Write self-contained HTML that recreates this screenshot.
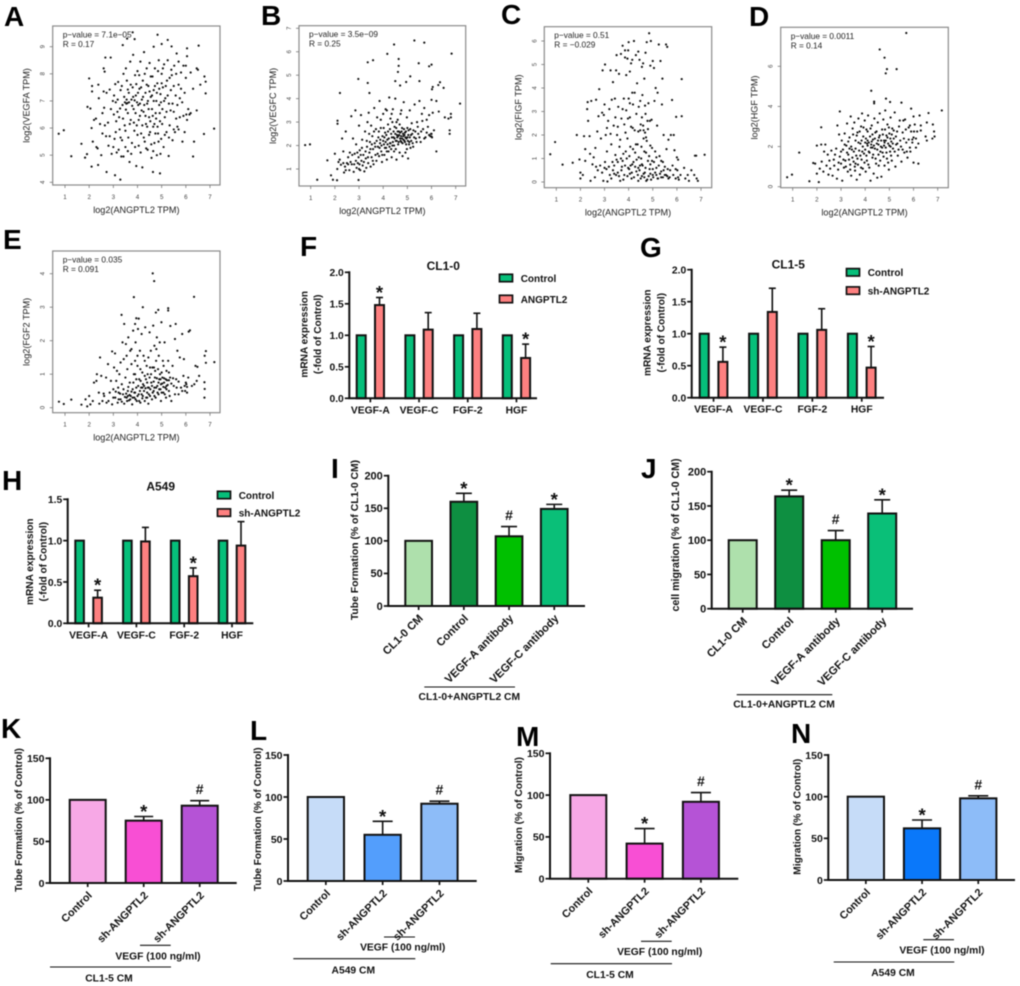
<!DOCTYPE html>
<html lang="en">
<head>
<meta charset="utf-8">
<title>ANGPTL2 multi-panel figure</title>
<style>
html,body{margin:0;padding:0;background:#fff;}
#figure{display:block;width:1020px;height:986px;filter:blur(0.4px);font-family:"Liberation Sans",Arial,sans-serif;}
.letter{font-size:28px;font-weight:700;fill:#000;}
</style>
</head>
<body>
<svg id="figure" xmlns="http://www.w3.org/2000/svg" width="1020" height="986" viewBox="0 0 1020 986">
<rect x="0" y="0" width="1020" height="986" fill="#fff"/>
<text class="letter" x="4" y="26">A</text>
<text class="letter" x="261" y="25">B</text>
<text class="letter" x="501" y="24">C</text>
<text class="letter" x="749" y="26">D</text>
<text class="letter" x="3" y="249">E</text>
<text class="letter" x="300" y="256">F</text>
<text class="letter" x="640" y="257">G</text>
<text class="letter" x="2" y="490">H</text>
<text class="letter" x="331" y="478">I</text>
<text class="letter" x="641" y="478">J</text>
<text class="letter" x="1" y="738">K</text>
<text class="letter" x="250" y="740">L</text>
<text class="letter" x="516" y="746">M</text>
<text class="letter" x="791" y="743">N</text>
</svg>
<script>
/* ---------- scatter data ---------- */
const scatterXTicks = [1,2,3,4,5,6,7];
const yTicksA = [4,5,6,7,8,9];
const yTicksB = [1,2,3,4,5,6,7];
const yTicksC = [0,1,2,3,4,5,6];
const yTicksD = [0,2,4,6];
const yTicksE = [0,1,2,3,4];

const pointsA = [[0.74,5.79],[0.95,5.92],[1.26,4.96],[1.68,5.42],[1.83,4.91],[1.91,5.04],[2.1,4.58],[2.0,7.83],[2.12,7.55],[2.12,7.35],[2.38,7.6],[2.37,4.64],[2.72,4.38],[3.07,4.26],[3.29,4.1],[2.67,8.6],[2.89,8.6],[2.6,8.2],[2.64,8.08],[3.39,9.06],[3.8,9.53],[3.57,9.3],[3.88,9.28],[4.83,9.44],[5.25,9.25],[5.0,9.1],[4.67,9.0],[5.41,9.01],[6.05,8.94],[6.53,9.04],[7.17,5.98],[6.75,5.78],[6.3,4.95],[6.34,5.5],[5.86,5.5],[4.64,4.38],[4.93,4.33],[5.29,4.97],[6.82,7.28],[6.82,7.71],[6.77,7.9],[6.45,8.2],
[1.93,6.78],[2.05,6.72],[2.1,6.0],[2.15,5.5],[2.2,6.3],[2.28,6.35],[2.3,5.3],[2.35,5.25],[2.4,7.1],[2.45,6.15],[2.5,5.0],[2.55,6.55],[2.6,7.35],[2.62,6.75],[2.7,5.7],[2.72,7.3],[2.78,6.2],[2.8,5.35],[2.85,7.42],[2.9,6.7],[2.93,5.05],[2.98,7.0],[3.02,6.5],[3.05,5.6],[3.08,7.62],[3.1,6.95],[3.14,5.1],[3.17,6.6],[3.2,7.7],[3.24,6.4],[3.26,5.95],[3.3,7.4],[3.33,4.95],[3.36,5.55],[3.38,6.85],[3.42,8.0],[3.45,7.15],[3.47,6.1],[3.5,5.3],[3.52,8.2],[3.54,6.9],[3.56,7.75],[3.6,6.55],[3.62,5.65],[3.64,7.3],[3.67,4.75],[3.7,8.45],[3.72,6.3],[3.75,7.05],[3.77,5.45],[3.8,7.5],[3.82,8.7],[3.84,6.7],[3.87,5.9],[3.9,7.95],[3.93,7.2],[3.95,4.6],[3.97,6.1],[4.0,8.1],[4.03,6.85],[4.05,5.35],[4.08,7.45],[4.1,6.45],[4.12,8.45],[4.15,5.8],[4.18,7.05],[4.2,4.55],[4.22,7.75],[4.25,6.6],[4.27,8.8],[4.3,5.5],[4.33,7.3],[4.35,6.15],[4.38,8.2],[4.4,6.9],[4.42,5.2],[4.45,7.55],[4.48,6.4],[4.5,8.4],[4.52,5.85],[4.55,7.15],[4.58,4.9],[4.6,6.7],[4.62,7.9],[4.65,6.05],[4.67,7.4],[4.7,5.45],[4.72,8.2],[4.75,6.55],[4.78,7.0],[4.8,5.0],[4.82,7.65],[4.85,5.8],[4.88,8.5],[4.9,6.85],[4.93,6.25],[4.95,7.25],[4.98,5.6],[5.0,8.0],[5.03,6.7],[5.05,7.5],[5.08,5.3],[5.1,8.35],[5.13,6.4],[5.15,7.1],[5.2,5.85],[5.22,7.75],[5.25,8.5],[5.3,6.9],[5.33,6.1],[5.38,7.4],[5.42,7.95],[5.45,5.55],[5.5,6.6],[5.52,8.3],[5.58,7.2],[5.62,8.75],[5.65,6.05],[5.7,7.6],[5.75,6.4],[5.8,8.05],[5.85,6.95],[5.9,8.3],[5.95,7.3],[6.0,7.85],[6.02,6.5],[6.05,8.65],[6.1,6.7],[6.15,6.5],[6.2,8.05],[6.3,7.45],[6.45,6.65],[6.5,8.15],[6.6,7.6],[5.7,5.95],[5.6,6.35],[5.5,5.95],[5.95,5.85],
[3.03,7.2],[3.12,6.25],[3.18,7.05],[3.28,6.72],[3.35,7.55],[3.4,6.35],[3.48,6.95],[3.52,6.68],[3.55,7.05],[3.58,6.92],[3.6,7.42],[3.65,6.95],[3.68,6.15],[3.72,7.6],[3.74,5.05],[3.78,6.82],[3.82,7.15],[3.85,6.2],[3.88,7.02],[3.9,5.3],[3.92,6.55],[3.95,7.62],[3.98,6.95],[4.0,5.75],[4.02,7.3],[4.05,6.3],[4.07,7.95],[4.1,6.9],[4.13,5.1],[4.15,7.5],[4.17,6.65],[4.2,6.1],[4.23,7.15],[4.26,5.65],[4.28,6.85],[4.3,8.0],[4.33,6.45],[4.36,5.25],[4.38,7.6],[4.4,6.05],[4.43,7.0],[4.46,6.7],[4.48,5.75],[4.5,7.35],[4.53,6.25],[4.55,7.9],[4.57,5.4],[4.6,7.2],[4.63,6.45],[4.65,5.15],[4.67,7.0],[4.7,6.15],[4.72,7.55],[4.74,5.8],[4.77,6.35],[4.8,7.3],[4.83,6.05],[4.85,8.1],[4.87,5.5],[4.9,7.45],[4.92,6.55],[4.95,5.05],[4.97,6.95],[5.0,7.65],[5.02,6.15],[5.05,8.2],[5.1,7.0],[5.13,5.75],[5.17,7.55],[5.2,6.6],[5.25,7.2],[5.3,5.65],[5.33,7.85],[5.37,6.65],[5.4,8.15],[5.45,6.9],[5.5,7.55],[5.55,5.85],[5.6,8.0],[5.65,6.85],[5.7,8.45],[5.75,7.1],[5.8,7.45],[5.9,6.45],[6.0,8.3],[6.05,6.3],[6.2,6.55],[2.55,5.8],[2.65,6.1],[2.85,5.7],[3.0,5.3],[3.1,5.85],[3.22,5.2],[3.3,5.65],[3.42,4.95],[3.5,5.9],[3.6,5.15]];

const pointsB = [[0.77,2.02],[0.97,2.05],[1.27,0.54],[1.69,1.37],[1.84,0.73],[1.92,0.54],[2.09,0.52],[2.21,4.24],[2.11,3.06],[2.11,2.93],[2.98,0.53],[2.97,4.84],[3.36,5.55],[3.58,5.64],[3.36,4.67],[3.43,4.24],[4.17,5.91],[4.45,6.31],[5.29,6.48],[5.7,6.39],[4.64,5.69],[4.64,5.4],[4.61,5.14],[4.5,4.75],[4.7,4.56],[5.12,4.95],[4.95,4.71],[5.47,5.51],[5.5,4.75],[5.9,5.38],[6.0,5.45],[6.83,5.92],[7.18,3.79],[6.35,4.7],[6.5,4.46],[6.28,4.58],[6.05,4.5],[6.02,4.4],[6.2,1.75],[6.75,2.5],[6.75,2.65],[6.8,3.35],[6.8,3.2],[6.55,3.2],[6.3,3.45],[6.7,3.15],
[2.0,1.65],[2.1,1.0],[2.15,1.3],[2.2,1.4],[2.25,1.18],[2.3,2.3],[2.35,1.75],[2.38,0.85],[2.42,1.1],[2.45,2.6],[2.5,1.25],[2.55,1.5],[2.6,0.95],[2.62,1.7],[2.68,3.25],[2.7,1.2],[2.75,2.3],[2.78,0.88],[2.82,1.65],[2.85,3.5],[2.88,2.05],[2.9,1.05],[2.95,1.25],[2.98,1.5],[3.0,2.85],[3.03,1.8],[3.05,0.95],[3.08,3.3],[3.1,1.35],[3.13,2.25],[3.15,1.15],[3.18,1.6],[3.22,0.9],[3.25,2.6],[3.28,1.45],[3.3,1.05],[3.33,1.95],[3.35,3.0],[3.38,1.25],[3.4,3.4],[3.43,1.7],[3.45,2.15],[3.48,1.1],[3.5,2.85],[3.52,1.5],[3.55,2.4],[3.58,1.85],[3.6,1.2],[3.63,3.6],[3.65,2.1],[3.68,1.6],[3.7,2.7],[3.72,1.35],[3.75,3.2],[3.78,1.95],[3.8,2.35],[3.83,1.55],[3.85,3.9],[3.87,2.1],[3.9,2.75],[3.92,1.75],[3.95,1.3],[3.97,2.4],[4.0,3.35],[4.03,2.05],[4.05,1.6],[4.08,2.55],[4.1,3.55],[4.12,1.9],[4.15,1.4],[4.17,2.25],[4.2,2.9],[4.22,1.75],[4.25,4.05],[4.28,2.1],[4.3,3.15],[4.33,2.5],[4.35,1.5],[4.38,2.0],[4.4,3.55],[4.43,2.35],[4.45,1.75],[4.47,2.8],[4.5,4.0],[4.52,2.2],[4.55,1.4],[4.57,2.45],[4.6,3.1],[4.62,2.05],[4.65,2.6],[4.68,1.7],[4.7,2.3],[4.72,3.35],[4.75,2.15],[4.78,2.75],[4.8,1.55],[4.83,2.4],[4.85,3.85],[4.88,2.2],[4.9,2.55],[4.92,1.7],[4.95,2.05],[4.98,3.2],[5.0,2.35],[5.03,1.45],[5.05,2.65],[5.08,2.15],[5.1,3.5],[5.13,1.9],[5.15,2.45],[5.18,2.95],[5.22,2.1],[5.25,2.65],[5.3,3.75],[5.35,2.3],[5.4,3.0],[5.45,2.5],[5.5,3.9],[5.55,2.15],[5.6,3.35],[5.65,2.7],[5.7,3.6],[5.75,2.35],[5.8,3.1],[5.85,2.8],[5.9,3.3],[5.95,2.4],[6.0,2.5],[6.02,2.35],[6.0,3.95],[6.05,3.4],[6.1,2.65],[6.2,3.9],
[3.02,1.2],[3.07,1.6],[3.12,1.9],[3.2,1.3],[3.27,1.75],[3.32,2.2],[3.37,1.5],[3.42,2.5],[3.47,1.85],[3.53,2.05],[3.57,1.35],[3.62,2.6],[3.67,1.95],[3.73,2.2],[3.77,1.65],[3.82,2.6],[3.85,1.9],[3.88,2.25],[3.93,2.0],[3.96,1.6],[4.0,2.2],[4.02,2.75],[4.05,2.35],[4.07,1.9],[4.1,2.15],[4.13,2.45],[4.15,1.75],[4.18,2.05],[4.2,2.6],[4.23,2.3],[4.26,1.95],[4.28,2.7],[4.3,2.1],[4.33,1.85],[4.36,2.35],[4.38,3.0],[4.4,2.15],[4.43,2.6],[4.45,2.0],[4.47,2.3],[4.5,2.5],[4.52,1.85],[4.54,2.75],[4.56,2.2],[4.58,2.35],[4.6,2.6],[4.62,2.4],[4.64,2.15],[4.66,2.45],[4.68,2.9],[4.7,2.55],[4.72,2.2],[4.74,2.4],[4.76,2.6],[4.78,2.3],[4.8,2.1],[4.82,2.5],[4.84,2.25],[4.86,2.7],[4.88,2.45],[4.9,2.15],[4.92,2.35],[4.94,2.6],[4.96,2.3],[4.98,1.85],[5.0,2.75],[5.02,2.2],[5.04,2.45],[5.07,2.05],[5.1,2.35],[5.12,2.7],[5.16,2.2],[5.2,2.5],[5.24,1.95],[5.28,2.35],[5.33,2.6],[5.38,2.15],[5.43,2.8],[5.5,2.35],[5.57,2.6],[5.62,3.05],[5.7,2.3],[5.8,2.55],[5.9,2.45],[5.98,2.5],[6.0,2.38],[2.35,1.25],[2.45,0.95],[2.55,1.2],[2.65,1.3],[2.72,1.6],[2.8,1.2],[2.87,1.35],[2.93,1.7],[3.0,1.0],[3.9,3.1],[4.15,3.5],[4.35,3.35],[4.55,3.0],[4.75,3.5]];

const pointsC = [[0.75,1.18],[0.95,1.7],[1.26,0.74],[1.68,0.82],[1.85,2.0],[1.96,0.96],[2.0,0.15],[2.0,0.4],[2.1,0.3],[2.15,1.95],[2.2,1.4],[2.2,0.9],[2.28,3.1],[2.3,3.4],[2.32,2.6],[2.38,1.95],[2.4,1.2],[2.42,0.05],[2.45,3.45],[2.5,0.75],[2.55,1.05],[2.62,1.45],[2.65,3.5],[2.7,2.15],[2.72,0.5],[2.75,2.8],[2.78,3.95],[2.82,0.7],[2.85,1.85],[2.9,2.95],[2.92,4.75],[2.95,0.05],[2.97,2.85],[3.0,3.3],[3.02,5.0],[3.05,2.0],[3.08,0.55],[3.1,1.3],[3.12,0.02],[3.15,2.6],[3.2,3.1],[3.22,0.3],[3.25,4.75],[3.28,1.6],[3.3,3.5],[3.33,0.85],[3.35,4.25],[3.38,2.4],[3.4,0.35],[3.43,3.55],[3.45,1.15],[3.48,4.75],[3.5,5.4],[3.52,2.0],[3.55,0.4],[3.57,3.2],[3.6,4.6],[3.62,1.5],[3.65,0.05],[3.68,5.45],[3.7,2.7],[3.72,0.65],[3.75,5.8],[3.78,1.2],[3.8,3.55],[3.82,0.3],[3.85,5.6],[3.87,2.1],[3.9,4.55],[3.92,1.0],[3.95,5.25],[3.97,2.7],[4.0,5.95],[4.02,0.55],[4.05,3.35],[4.07,1.5],[4.1,5.05],[4.12,0.15],[4.15,3.8],[4.17,2.3],[4.2,0.85],[4.22,6.0],[4.25,2.2],[4.27,1.25],[4.3,5.4],[4.32,0.45],[4.35,4.2],[4.37,1.6],[4.4,0.05],[4.42,3.2],[4.45,5.2],[4.47,0.7],[4.5,2.45],[4.52,1.0],[4.55,0.25],[4.57,3.7],[4.6,5.05],[4.62,1.85],[4.65,4.4],[4.67,0.4],[4.7,2.9],[4.72,1.25],[4.75,5.95],[4.77,0.1],[4.8,2.25],[4.82,3.35],[4.85,6.33],[4.87,0.55],[4.9,1.55],[4.92,6.0],[4.95,2.65],[4.97,0.9],[5.0,5.15],[5.02,0.2],[5.05,4.85],[5.07,3.45],[5.1,1.3],[5.12,4.0],[5.15,0.6],[5.18,2.4],[5.2,3.8],[5.22,0.15],[5.25,5.85],[5.28,1.1],[5.32,5.15],[5.35,0.45],[5.38,3.3],[5.4,4.4],[5.42,0.85],[5.45,2.0],[5.5,0.3],[5.55,5.85],[5.57,1.4],[5.6,5.75],[5.62,0.55],[5.65,1.8],[5.7,0.2],[5.75,2.0],[5.8,3.49],[5.82,0.7],[5.87,2.0],[5.9,1.35],[5.95,0.15],[5.97,2.77],[6.0,1.05],[6.02,0.5],[6.05,0.95],[6.08,0.1],[6.15,0.3],[6.2,4.38],[6.2,2.8],[6.3,0.6],[6.35,0.15],[6.45,0.3],[6.5,0.05],[6.6,0.5],[6.72,0.3],[6.75,1.12],[6.8,1.12],[6.82,0.15],[6.87,0.05],[7.15,1.16],[3.0,0.6],[3.4,0.7],[3.75,0.9],[4.15,0.75],[4.4,0.6],[4.65,0.2],[4.9,0.35],[5.15,0.3],[5.35,0.2],[5.6,0.25],[2.6,0.2],[3.55,0.85],[4.05,0.35],[4.58,0.7],[5.0,0.55],[5.45,0.5],
[2.65,0.65],[2.9,0.4],[3.02,0.85],[3.18,0.65],[3.28,0.15],[3.35,0.5],[3.48,0.3],[3.5,0.95],[3.6,0.25],[3.68,1.0],[3.7,0.5],[3.78,0.1],[3.85,0.7],[3.88,1.3],[3.95,0.25],[3.98,0.6],[4.03,1.1],[4.08,0.7],[4.13,0.4],[4.18,1.4],[4.22,0.2],[4.27,0.65],[4.3,1.6],[4.33,0.95],[4.38,0.3],[4.42,1.05],[4.45,0.5],[4.48,2.2],[4.5,0.15],[4.53,1.5],[4.55,0.75],[4.6,2.4],[4.62,0.35],[4.65,1.3],[4.68,2.1],[4.7,0.6],[4.73,0.05],[4.75,1.75],[4.8,0.9],[4.83,0.25],[4.85,1.1],[4.88,2.6],[4.9,0.75],[4.93,0.1],[4.97,1.45],[5.0,0.3],[5.05,0.85],[5.1,0.4],[5.15,1.05],[5.2,0.15],[5.25,0.7],[5.3,0.35],[5.35,0.9],[5.42,0.2],[5.5,0.65],[5.55,0.3],[5.65,0.15],[5.72,0.5],[5.85,0.3],[5.95,0.55],[6.05,0.2],[3.1,2.3],[3.25,2.05],[3.45,2.75],[3.55,2.35],[3.65,1.8],[3.75,3.1],[3.82,2.45],[3.9,3.05],[3.95,1.85],[4.0,3.55],[4.05,2.75],[4.1,2.35],[4.18,3.3],[4.25,3.8],[4.32,2.9],[4.4,2.15],[4.48,3.45],[4.55,2.75],[4.62,2.2],[4.68,3.25],[4.72,1.9],[4.78,2.6],[3.85,5.3],[3.98,5.6],[4.05,4.7],[4.15,5.2],[4.4,5.55],[4.55,4.9],[4.7,5.5],[4.9,4.95]];

const pointsD = [[0.77,0.47],[0.97,0.6],[1.27,1.7],[1.69,0.27],[2.08,0.23],[1.85,1.18],[2.18,2.96],[2.95,3.75],[5.7,7.66],[4.6,6.84],[4.8,6.43],[4.9,5.86],[4.85,5.65],[5.3,5.86],[4.25,4.78],[4.37,4.24],[4.37,4.15],[4.86,4.39],[5.03,4.22],[5.5,4.19],[7.17,3.8],[6.62,3.67],[5.9,3.89],[6.0,3.5],[6.25,3.55],[6.55,3.2],[6.8,3.1],[6.85,2.75],[6.87,2.5],[6.78,2.4],[6.5,2.5],[6.3,2.8],[6.15,2.75],[6.2,1.15],[6.0,1.2],[5.87,1.75],
[1.93,1.15],[2.0,2.05],[2.0,0.65],[2.12,0.9],[2.18,2.1],[2.2,1.25],[2.27,0.75],[2.3,1.75],[2.35,2.1],[2.4,1.05],[2.45,1.6],[2.48,0.6],[2.52,1.3],[2.55,0.9],[2.6,1.8],[2.65,0.55],[2.7,1.35],[2.72,1.05],[2.8,1.9],[2.83,0.4],[2.85,3.05],[2.88,0.85],[2.92,2.6],[2.95,1.5],[3.0,1.15],[3.03,2.3],[3.05,0.3],[3.08,1.85],[3.12,0.95],[3.15,2.65],[3.18,1.3],[3.22,2.05],[3.25,3.15],[3.28,0.75],[3.3,1.6],[3.35,2.45],[3.38,1.1],[3.4,3.5],[3.42,0.55],[3.45,1.85],[3.48,2.9],[3.52,1.25],[3.55,3.2],[3.58,0.8],[3.6,2.3],[3.63,1.55],[3.65,0.35],[3.68,2.7],[3.7,1.1],[3.72,3.4],[3.75,1.8],[3.78,0.6],[3.8,2.15],[3.83,3.0],[3.85,1.35],[3.87,3.65],[3.9,0.9],[3.92,2.5],[3.95,1.65],[3.98,3.3],[4.0,2.2],[4.02,0.75],[4.05,2.85],[4.07,1.3],[4.1,2.05],[4.12,3.55],[4.15,1.75],[4.17,0.95],[4.2,2.5],[4.22,0.3],[4.25,2.1],[4.27,3.05],[4.3,1.45],[4.32,2.35],[4.35,0.65],[4.38,3.4],[4.4,1.9],[4.42,2.7],[4.45,1.15],[4.48,2.15],[4.5,0.45],[4.52,3.2],[4.55,1.6],[4.57,2.45],[4.6,3.65],[4.62,1.3],[4.65,2.0],[4.67,0.5],[4.7,2.85],[4.72,1.7],[4.75,3.35],[4.78,2.3],[4.8,1.05],[4.83,3.8],[4.85,1.95],[4.88,2.55],[4.9,1.4],[4.92,3.1],[4.95,2.15],[4.98,0.85],[5.0,2.65],[5.03,1.75],[5.05,3.45],[5.08,2.25],[5.1,1.3],[5.12,2.9],[5.15,1.9],[5.18,2.4],[5.22,3.7],[5.25,1.0],[5.28,2.1],[5.32,2.75],[5.35,1.55],[5.4,3.0],[5.45,2.3],[5.5,1.25],[5.55,2.7],[5.58,3.3],[5.62,1.7],[5.65,3.35],[5.7,2.2],[5.75,1.45],[5.8,2.35],[5.85,3.05],[5.9,2.75],[5.95,2.35],[6.0,2.45],[6.05,3.1],[6.1,1.95],[6.2,2.15],[3.35,1.9],[3.6,1.15],[3.9,2.0],[4.1,2.3],[4.3,1.95],[4.55,2.1],[4.8,2.2],[5.05,2.0],
[2.75,1.6],[2.9,1.2],[3.0,1.75],[3.1,1.35],[3.15,2.1],[3.2,1.0],[3.25,1.7],[3.3,2.25],[3.33,1.35],[3.38,0.85],[3.42,2.0],[3.47,1.45],[3.5,2.6],[3.53,1.75],[3.57,1.0],[3.6,1.9],[3.65,2.55],[3.68,1.4],[3.72,2.2],[3.77,2.75],[3.8,1.55],[3.83,0.95],[3.85,2.3],[3.88,1.75],[3.93,2.95],[3.97,1.2],[4.0,1.85],[4.03,2.4],[4.05,1.55],[4.08,2.15],[4.1,2.75],[4.13,1.1],[4.15,2.2],[4.18,1.7],[4.22,2.9],[4.24,1.95],[4.27,2.25],[4.3,2.6],[4.33,1.6],[4.36,2.05],[4.4,2.4],[4.43,1.4],[4.47,2.75],[4.5,1.85],[4.53,2.3],[4.56,1.05],[4.6,2.55],[4.63,1.75],[4.66,2.3],[4.7,1.95],[4.73,2.6],[4.76,1.5],[4.78,2.05],[4.82,2.85],[4.85,2.3],[4.88,1.7],[4.92,2.45],[4.95,1.2],[4.98,2.95],[5.0,2.05],[5.04,2.4],[5.07,1.55],[5.1,2.6],[5.14,2.15],[5.18,2.8],[5.22,1.75],[5.27,2.5],[5.33,2.15],[5.38,1.85],[5.43,3.3],[5.48,2.0],[5.55,1.85],[5.6,2.4],[5.68,2.85],[5.72,1.75],[5.8,2.95],[5.85,1.95],[5.95,2.2],[6.02,2.75],[6.1,2.4],[6.3,3.05],[6.55,2.3]];

const pointsE = [[0.75,0.18],[0.95,0.11],[1.26,0.24],[1.68,0.09],[1.92,0.04],[4.63,4.01],[4.69,3.78],[3.85,3.3],[4.22,3.0],[3.34,2.77],[6.34,3.31],[4.86,2.92],[4.76,2.84],[5.27,2.97],[5.27,2.9],[7.18,1.36],[6.83,1.69],[6.78,1.55],[6.83,1.34],[6.77,0.3],[6.78,0.56],[6.77,0.76],[6.48,1.22],[6.17,2.31],[6.12,2.27],[5.58,2.5],[4.99,2.55],[5.36,2.44],[2.45,1.5],[2.95,1.68],[3.07,1.62],[3.45,2.5],[3.95,2.67],[4.05,2.66],[3.9,2.5],
[1.85,0.25],[2.0,0.35],[2.05,0.1],[2.15,0.2],[2.2,0.75],[2.3,0.8],[2.32,1.0],[2.4,0.45],[2.42,0.12],[2.5,0.95],[2.55,0.2],[2.62,0.35],[2.7,0.9],[2.72,0.15],[2.78,1.3],[2.85,0.45],[2.9,0.8],[2.95,0.1],[3.0,0.55],[3.03,1.2],[3.08,0.3],[3.12,0.8],[3.15,1.1],[3.18,0.15],[3.22,0.45],[3.25,1.0],[3.3,0.25],[3.35,0.7],[3.38,1.95],[3.4,0.4],[3.43,1.45],[3.45,0.12],[3.5,0.9],[3.52,1.9],[3.55,0.3],[3.58,1.15],[3.6,0.5],[3.62,2.1],[3.65,0.22],[3.68,0.75],[3.7,1.7],[3.72,0.35],[3.75,1.3],[3.78,0.1],[3.8,0.55],[3.82,2.3],[3.85,1.0],[3.87,0.3],[3.9,1.4],[3.92,1.95],[3.95,0.6],[3.97,0.2],[4.0,1.25],[4.02,2.35],[4.05,0.4],[4.07,0.85],[4.1,1.7],[4.12,0.15],[4.15,0.6],[4.17,2.2],[4.2,1.05],[4.22,0.35],[4.25,1.55],[4.27,0.65],[4.3,0.2],[4.32,2.4],[4.35,0.85],[4.38,1.25],[4.4,0.45],[4.42,1.0],[4.45,0.12],[4.47,0.6],[4.5,2.25],[4.52,0.35],[4.55,1.7],[4.57,0.75],[4.6,0.25],[4.62,1.2],[4.65,2.45],[4.67,0.5],[4.7,1.85],[4.72,0.9],[4.75,0.3],[4.77,1.4],[4.8,2.1],[4.82,0.65],[4.85,1.15],[4.87,0.4],[4.9,0.85],[4.92,1.95],[4.95,0.55],[4.97,0.2],[5.0,1.05],[5.02,0.72],[5.05,1.4],[5.07,0.45],[5.1,0.88],[5.12,1.95],[5.15,0.6],[5.18,0.3],[5.2,1.1],[5.22,0.82],[5.27,1.4],[5.3,0.5],[5.35,0.9],[5.4,0.2],[5.45,1.25],[5.5,0.65],[5.55,2.05],[5.6,0.85],[5.65,1.7],[5.7,0.4],[5.75,1.5],[5.8,0.6],[5.85,2.2],[5.9,0.95],[5.92,1.45],[5.97,0.5],[6.0,0.75],[6.02,0.7],[6.05,0.45],[6.1,0.9],[6.25,0.65],[6.35,0.7],[6.4,1.25],[6.45,0.8],[6.55,0.95],[3.2,0.6],[3.6,0.35],[3.9,0.45],[4.2,0.6],[4.4,0.3],[4.7,0.6],[4.95,0.85],[5.2,0.65],
[2.6,0.42],[2.8,0.2],[3.0,0.3],[3.1,0.48],[3.22,0.25],[3.28,0.42],[3.35,0.18],[3.42,0.55],[3.48,0.32],[3.53,0.42],[3.57,0.2],[3.62,0.62],[3.67,0.38],[3.7,0.25],[3.75,0.48],[3.8,0.3],[3.83,0.75],[3.87,0.45],[3.92,0.25],[3.95,0.85],[4.0,0.35],[4.03,0.65],[4.07,0.2],[4.1,0.5],[4.13,0.8],[4.17,0.4],[4.2,0.28],[4.23,0.7],[4.27,0.5],[4.3,0.95],[4.33,0.58],[4.36,0.3],[4.4,0.75],[4.43,0.6],[4.47,0.4],[4.5,0.9],[4.53,0.55],[4.56,1.0],[4.6,0.65],[4.63,0.45],[4.67,0.78],[4.7,0.35],[4.73,1.1],[4.77,0.6],[4.8,0.88],[4.83,0.45],[4.87,0.75],[4.9,0.55],[4.93,1.0],[4.97,0.7],[5.0,0.45],[5.03,0.9],[5.07,0.62],[5.1,0.75],[5.13,0.4],[5.17,0.85],[5.2,0.55],[5.25,0.68],[5.3,0.82],[5.33,0.35],[5.4,0.72],[5.47,0.88],[5.55,0.4],[5.62,0.6],[5.7,0.78],[5.85,0.5],[5.95,0.65],[6.05,0.62],[3.3,1.35],[3.55,1.55],[3.75,1.75],[3.9,1.0],[4.0,1.55],[4.12,1.15],[4.3,1.4],[4.45,1.5],[4.52,1.2],[4.68,1.2],[4.78,1.75],[4.88,1.55],[5.08,1.25],[5.3,1.05]];

/* ---------- grouped bar data ---------- */
const geneCategories = ['VEGF-A','VEGF-C','FGF-2','HGF'];
const yTicksF = ['0.0','0.5','1.0','1.5','2.0'];
const controlF = [1,1,1,1];
const treatedF = [1.48,1.09,1.10,0.64];
const errorTopF = [1.60,1.36,1.35,0.86];
const marksF = ['*','','','*'];
const yTicksG = ['0.0','0.5','1.0','1.5','2.0'];
const controlG = [1,1,1,1];
const treatedG = [0.56,1.34,1.06,0.47];
const errorTopG = [0.79,1.71,1.39,0.80];
const marksG = ['*','','','*'];
const yTicksH = ['0.0','0.5','1.0','1.5'];
const controlH = [1,1,1,1];
const treatedH = [0.31,0.99,0.57,0.94];
const errorTopH = [0.40,1.16,0.67,1.23];
const marksH = ['*','','*',''];

/* ---------- single bar data ---------- */
const antibodyCategories = ['CL1-0 CM','Control','VEGF-A antibody','VEGF-C antibody'];
const shCategories = ['Control','sh-ANGPTL2','sh-ANGPTL2'];
const yTicks200 = ['0','50','100','150','200'];
const yTicks150 = ['0','50','100','150'];
const valuesI = [100,160,107,149];
const errorTopI = [100,173,122,156];
const marksI = ['','*','#','*'];
const valuesJ = [100,164,100,139];
const errorTopJ = [100,173,114,159];
const marksJ = ['','*','#','*'];
const valuesK = [100,75,93];
const errorTopK = [100,80,99];
const marksK = ['','*','#'];
const valuesL = [100,55,92];
const errorTopL = [100,71,95];
const marksL = ['','*','#'];
const valuesM = [100,42,92];
const errorTopM = [100,60,103];
const marksM = ['','*','#'];
const valuesN = [100,62,98];
const errorTopN = [100,72,101];
const marksN = ['','*','#'];
const greenColors = ['#aee0ac','#0e8f41','#00c000','#0abf78'];
const pinkColors = ['#f7a8e6','#f84fd4','#b553d6'];
const paleBlueColors = ['#c6dcf8','#539efc','#8dbcf8'];
const strongBlueColors = ['#c6dcf8','#0a78fa','#8dbcf8'];

/* ---------- helpers ---------- */
const svg = document.getElementById('figure');
const NS = 'http://www.w3.org/2000/svg';
function add(parent, tag, attrs, name, text) {
  const el = document.createElementNS(NS, tag);
  for (const k in attrs) el.setAttribute(k, attrs[k]);
  
  
  if (text !== undefined) el.textContent = text;
  parent.appendChild(el);
  return el;
}
function line(g, x1, y1, x2, y2, stroke, w, name) {
  return add(g, 'line', {x1:x1, y1:y1, x2:x2, y2:y2, stroke:stroke, 'stroke-width':w}, name);
}
function linear(v0, p0, v1, p1) {
  return v => p0 + (v - v0) * (p1 - p0) / (v1 - v0);
}
function slug(s) { return s.toLowerCase().replace(/[^a-z0-9]+/g, '-'); }

/* ---------- scatter panels ---------- */
function drawScatter(c, points, yTicks) {
  const g = add(svg, 'g', {}, 'scatter-panel-' + c.id);
  const sx = linear(1, c.x1, 7, c.x7);
  const sy = linear(c.yLowV, c.yLowP, c.yHighV, c.yHighP);
  add(g, 'rect', {x:c.left, y:c.top, width:c.right-c.left, height:c.bottom-c.top, fill:'none', stroke:'#8a8a8a', 'stroke-width':1.2}, 'plot-frame');
  scatterXTicks.forEach(t => {
    line(g, sx(t), c.bottom, sx(t), c.bottom+3, '#777', 0.8, 'x-tick');
    add(g, 'text', {x:sx(t), y:c.bottom+14, 'text-anchor':'middle', 'font-size':6.2, fill:'#444'}, 'x-tick-label', t);
  });
  yTicks.forEach(t => {
    line(g, c.left-3, sy(t), c.left, sy(t), '#777', 0.8, 'y-tick');
    const lx = c.left-8, ly = sy(t);
    add(g, 'text', {x:lx, y:ly, 'text-anchor':'middle', 'font-size':6.2, fill:'#444', transform:'rotate(-90 '+lx+' '+ly+')'}, 'y-tick-label', t);
  });
  points.forEach(p => {
    add(g, 'circle', {cx:sx(p[0]), cy:sy(p[1]), r:1.1, fill:'#111'}, 'scatter-point');
  });
  add(g, 'text', {x:c.left+10, y:c.top+11.5, 'font-size':8.3, fill:'#222'}, 'p-value-annotation', c.pText);
  add(g, 'text', {x:c.left+10, y:c.top+21, 'font-size':8.3, fill:'#222'}, 'r-annotation', c.rText);
  add(g, 'text', {x:(c.left+c.right)/2, y:c.bottom+28, 'text-anchor':'middle', 'font-size':9.1, fill:'#222'}, 'x-axis-title', 'log2(ANGPTL2 TPM)');
  const tx = c.left-23, ty = (c.top+c.bottom)/2;
  add(g, 'text', {x:tx, y:ty, 'text-anchor':'middle', 'font-size':9.1, fill:'#222', transform:'rotate(-90 '+tx+' '+ty+')'}, 'y-axis-title', c.yTitle);
}
drawScatter({id:'a',left:52.7,right:220,top:26,bottom:185,x1:65,x7:210,yLowV:4,yLowP:182.3,yHighV:9,yHighP:46.7,pText:'p\u2212value = 7.1e\u221205',rText:'R = 0.17',yTitle:'log2(VEGFA TPM)'}, pointsA, yTicksA);
drawScatter({id:'b',left:299,right:465.7,top:25.7,bottom:186,x1:310.7,x7:455.7,yLowV:1,yLowP:169,yHighV:7,yHighP:28.3,pText:'p\u2212value = 3.5e\u221209',rText:'R = 0.25',yTitle:'log2(VEGFC TPM)'}, pointsB, yTicksB);
drawScatter({id:'c',left:544.3,right:711.7,top:26.7,bottom:187.7,x1:556.3,x7:701,yLowV:0,yLowP:182,yHighV:6,yHighP:41,pText:'p\u2212value = 0.51',rText:'R = \u22120.029',yTitle:'log2(FIGF TPM)'}, pointsC, yTicksC);
drawScatter({id:'d',left:780.7,right:948.3,top:27.3,bottom:187.7,x1:792.7,x7:937.7,yLowV:0,yLowP:186.7,yHighV:6,yHighP:66.3,pText:'p\u2212value = 0.0011',rText:'R = 0.14',yTitle:'log2(HGF TPM)'}, pointsD, yTicksD);
drawScatter({id:'e',left:52.7,right:220,top:251,bottom:412.7,x1:65,x7:210,yLowV:0,yLowP:407.7,yHighV:4,yHighP:273.7,pText:'p\u2212value = 0.035',rText:'R = 0.091',yTitle:'log2(FGF2 TPM)'}, pointsE, yTicksE);

/* ---------- shared axis drawing ---------- */
function drawYAxis(g, c, ticks, sy) {
  line(g, c.axisX, c.yTop-1, c.axisX, c.y0, '#111', 2, 'y-axis-line');
  ticks.forEach(t => {
    const v = parseFloat(t);
    line(g, c.axisX-4.5, sy(v), c.axisX, sy(v), '#111', 1.7, 'y-tick');
    add(g, 'text', {x:c.axisX-5.5, y:sy(v)+3.8, 'text-anchor':'end', 'font-size':c.tickFont, 'font-weight':700, fill:'#111'}, 'y-tick-label', t);
  });
}
function rotatedTitle(g, x, y, size, text, name) {
  const base = x + size*0.36;
  add(g, 'text', {x:base, y:y, 'text-anchor':'middle', 'font-size':size, 'font-weight':700, fill:'#111', transform:'rotate(-90 '+base+' '+y+')'}, name, text);
}
function drawMark(g, cx, yPx, mark) {
  if (mark === '*') add(g, 'text', {x:cx, y:yPx+1.5, 'text-anchor':'middle', 'font-size':18.5, 'font-weight':700, fill:'#111'}, 'significance-star', mark);
  if (mark === '#') add(g, 'text', {x:cx, y:yPx-6.5, 'text-anchor':'middle', 'font-size':14, 'font-weight':700, fill:'#111'}, 'significance-hash', mark);
}

/* ---------- grouped bar panels ---------- */
function drawGrouped(c, cats, ticks, control, treated, errTop, marks, treatedName) {
  const g = add(svg, 'g', {}, 'bar-panel-' + c.id);
  const sy = linear(0, c.y0, parseFloat(ticks[ticks.length-1]), c.yTop);
  const w = c.barW;
  cats.forEach((cat, i) => {
    const xg = c.first + i*c.step, xr = xg + c.gap;
    const key = slug(cat);
    const ey = sy(errTop[i]);
    line(g, xr+w/2, sy(treated[i]), xr+w/2, ey, '#111', 1.6, 'error-bar-' + key);
    line(g, xr+w/2-c.cap, ey, xr+w/2+c.cap, ey, '#111', 1.6, 'error-cap-' + key);
    add(g, 'rect', {x:xg+1, y:sy(control[i]), width:w-2, height:c.y0-sy(control[i]), fill:'#06bf7a', stroke:'#111', 'stroke-width':2}, 'bar-' + key + '-control');
    add(g, 'rect', {x:xr+1, y:sy(treated[i]), width:w-2, height:c.y0-sy(treated[i]), fill:'#fe8080', stroke:'#111', 'stroke-width':2}, 'bar-' + key + '-treated');
    drawMark(g, xr+w/2, ey, marks[i]);
    const tx = (xg + xr + w)/2;
    line(g, tx, c.y0, tx, c.y0+4, '#111', 1.7, 'x-tick');
    add(g, 'text', {x:tx, y:c.y0+15, 'text-anchor':'middle', 'font-size':10.3, 'font-weight':700, fill:'#111'}, 'x-tick-label', cat);
  });
  line(g, c.axisX-1, c.y0, c.axisEnd, c.y0, '#111', 2, 'x-axis-line');
  drawYAxis(g, c, ticks, sy);
  add(g, 'text', {x:c.titleX, y:c.titleY, 'text-anchor':'middle', 'font-size':12, 'font-weight':700, fill:'#111'}, 'chart-title', c.title);
  rotatedTitle(g, c.yTitle1, c.yTitleY, 10.1, 'mRNA expression', 'y-axis-title-line-1');
  rotatedTitle(g, c.yTitle2, c.yTitleY, 10.1, '(-fold of Control)', 'y-axis-title-line-2');
  const l1 = add(g, 'g', {}, 'legend-entry-control');
  add(l1, 'rect', {x:c.legX+0.8, y:c.legY1, width:13, height:7.4, fill:'#06bf7a', stroke:'#111', 'stroke-width':1.7}, 'legend-swatch-control');
  add(l1, 'text', {x:c.legX+22, y:c.legY1+7.6, 'font-size':10, 'font-weight':700, fill:'#111'}, 'legend-label-control', 'Control');
  const l2 = add(g, 'g', {}, 'legend-entry-treated');
  add(l2, 'rect', {x:c.legX+0.8, y:c.legY2, width:13, height:7.4, fill:'#fe8080', stroke:'#111', 'stroke-width':1.7}, 'legend-swatch-treated');
  add(l2, 'text', {x:c.legX+22, y:c.legY2+7.6, 'font-size':10, 'font-weight':700, fill:'#111'}, 'legend-label-treated', treatedName);
}
drawGrouped({id:'f',axisX:349.3,axisEnd:537,y0:398.3,yTop:272.3,first:355.7,step:48.7,gap:18.3,barW:11,cap:3.5,tickFont:10.3,title:'CL1-0',titleX:443.3,titleY:270,yTitle1:304,yTitle2:317.3,yTitleY:334.3,legX:498.7,legY1:274.3,legY2:295.3}, geneCategories, yTicksF, controlF, treatedF, errorTopF, marksF, 'ANGPTL2');
drawGrouped({id:'g',axisX:691.7,axisEnd:884,y0:397.7,yTop:269.7,first:698.7,step:49.4,gap:18.7,barW:11,cap:3.5,tickFont:10.3,title:'CL1-5',titleX:788.3,titleY:268.3,yTitle1:646.7,yTitle2:660.7,yTitleY:332.7,legX:845.7,legY1:268.6,legY2:286.9}, geneCategories, yTicksG, controlG, treatedG, errorTopG, marksG, 'sh-ANGPTL2');
drawGrouped({id:'h',axisX:67.7,axisEnd:253.3,y0:623.3,yTop:499.3,first:74.3,step:47.8,gap:18,barW:10.6,cap:3.5,tickFont:10.3,title:'A549',titleX:160.7,titleY:490.7,yTitle1:29.3,yTitle2:42.7,yTitleY:561.7,legX:216.7,legY1:491.3,legY2:508.9}, geneCategories, yTicksH, controlH, treatedH, errorTopH, marksH, 'sh-ANGPTL2');

/* ---------- single bar panels ---------- */
function drawBars(c, cats, ticks, values, errTop, marks, colors) {
  const g = add(svg, 'g', {}, 'bar-panel-' + c.id);
  const sy = linear(0, c.y0, parseFloat(ticks[ticks.length-1]), c.yTop);
  cats.forEach((cat, i) => {
    const x = c.first + i*c.step, cx = x + c.barW/2, key = slug(cat) + '-' + i;
    if (errTop[i] > values[i]) {
      const ey = sy(errTop[i]);
      line(g, cx, sy(values[i]), cx, ey, '#111', 1.6, 'error-bar-' + key);
      line(g, cx-c.cap, ey, cx+c.cap, ey, '#111', 1.6, 'error-cap-' + key);
    }
    add(g, 'rect', {x:x+1, y:sy(values[i]), width:c.barW-2, height:c.y0-sy(values[i]), fill:colors[i], stroke:'#111', 'stroke-width':2}, 'bar-' + key);
    drawMark(g, cx, sy(errTop[i]), marks[i]);
    line(g, cx, c.y0, cx, c.y0+4, '#111', 1.7, 'x-tick');
    const ax = cx+5, ay = c.y0+13;
    add(g, 'text', {x:ax, y:ay, 'text-anchor':'end', 'font-size':c.catFont, 'font-weight':700, fill:'#111', transform:'rotate(-45 '+ax+' '+ay+')'}, 'x-tick-label', cat);
  });
  line(g, c.axisX-1, c.y0, c.axisEnd, c.y0, '#111', 2, 'x-axis-line');
  drawYAxis(g, c, ticks, sy);
  rotatedTitle(g, c.yTitleX, c.yTitleY, c.yTitleFont, c.yTitle, 'y-axis-title');
}
function annotate(name, x1, x2, y, labelX, labelY, text) {
  const g = add(svg, 'g', {}, name);
  line(g, x1, y, x2, y, '#111', 1.1, name + '-line');
  add(g, 'text', {x:labelX, y:labelY, 'text-anchor':'middle', 'font-size':10.3, 'font-weight':700, fill:'#111'}, name + '-label', text);
}
drawBars({id:'i',axisX:388.3,axisEnd:585,y0:606,yTop:475.7,first:404.3,step:45.2,barW:28.7,cap:8,tickFont:11,catFont:11.2,yTitle:'Tube Formation (% of CL1-0 CM)',yTitleX:354.3,yTitleY:540,yTitleFont:10.4}, antibodyCategories, yTicks200, valuesI, errorTopI, marksI, greenColors);
drawBars({id:'j',axisX:711.7,axisEnd:913,y0:608.7,yTop:471.7,first:727.7,step:46.5,barW:30,cap:8,tickFont:11,catFont:11.2,yTitle:'cell migration (% of CL1-0 CM)',yTitleX:675,yTitleY:535,yTitleFont:10.6}, antibodyCategories, yTicks200, valuesJ, errorTopJ, marksJ, greenColors);
drawBars({id:'k',axisX:50,axisEnd:236.7,y0:883,yTop:758.3,first:68.7,step:56,barW:38,cap:9.5,tickFont:10.5,catFont:10.8,yTitle:'Tube Formation (% of Control)',yTitleX:18.3,yTitleY:820,yTitleFont:10}, shCategories, yTicks150, valuesK, errorTopK, marksK, pinkColors);
drawBars({id:'l',axisX:288,axisEnd:476.7,y0:881,yTop:755,first:306.7,step:56.8,barW:38.3,cap:10,tickFont:10.5,catFont:10.8,yTitle:'Tube Formation (% of Control)',yTitleX:257.3,yTitleY:819.3,yTitleFont:10}, shCategories, yTicks150, valuesL, errorTopL, marksL, paleBlueColors);
drawBars({id:'m',axisX:550,axisEnd:738.3,y0:878.7,yTop:753.3,first:569.3,step:56.3,barW:38,cap:10,tickFont:10.5,catFont:10.8,yTitle:'Migration (% of Control)',yTitleX:518.3,yTitleY:815,yTitleFont:10.2}, shCategories, yTicks150, valuesM, errorTopM, marksM, pinkColors);
drawBars({id:'n',axisX:828.3,axisEnd:1015,y0:880,yTop:755,first:846.7,step:56.2,barW:38.3,cap:10,tickFont:10.5,catFont:10.8,yTitle:'Migration (% of Control)',yTitleX:796.7,yTitleY:816.7,yTitleFont:10.2}, shCategories, yTicks150, valuesN, errorTopN, marksN, strongBlueColors);

annotate('group-annotation-i', 424.3, 515, 687, 469.3, 700, 'CL1-0+ANGPTL2 CM');
annotate('group-annotation-j', 736.7, 832.3, 694.7, 784, 707.7, 'CL1-0+ANGPTL2 CM');
annotate('vegf-annotation-k', 140, 170.7, 945.3, 158, 959.5, 'VEGF (100 ng/ml)');
annotate('cm-annotation-k', 50, 171, 967, 109, 981.5, 'CL1-5 CM');
annotate('vegf-annotation-l', 384, 415, 937, 402.7, 950.5, 'VEGF (100 ng/ml)');
annotate('cm-annotation-l', 293.3, 415.3, 958.7, 353.3, 973.5, 'A549 CM');
annotate('vegf-annotation-m', 641, 671.7, 941.3, 659.7, 955, 'VEGF (100 ng/ml)');
annotate('cm-annotation-m', 550.7, 672, 963.7, 610, 978, 'CL1-5 CM');
annotate('vegf-annotation-n', 923.3, 954, 939.7, 942, 953.5, 'VEGF (100 ng/ml)');
annotate('cm-annotation-n', 833.7, 954.3, 962, 893, 976, 'A549 CM');
</script>
</body>
</html>
